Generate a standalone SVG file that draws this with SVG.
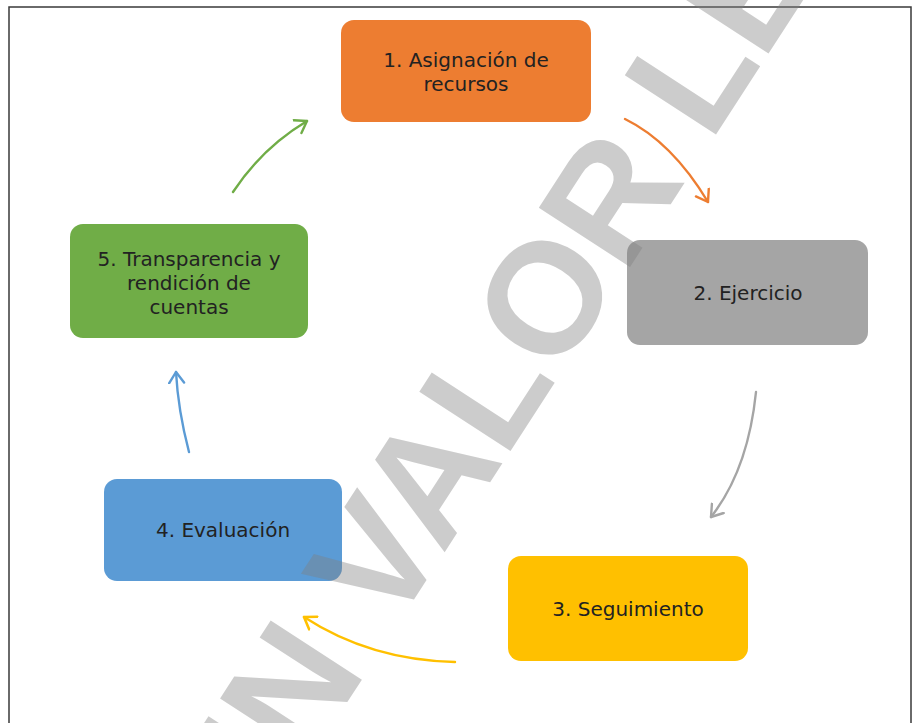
<svg xmlns="http://www.w3.org/2000/svg" width="918" height="723" viewBox="0 0 918 723">
<defs>
<style>
.lbl{font-family:"DejaVu Sans","Liberation Sans",sans-serif;font-size:20px;fill:#222;text-anchor:middle}
.arr{fill:none;stroke-width:2.4;stroke-linecap:round}
.wm{font-family:"Liberation Sans",Arial,sans-serif;font-weight:bold;font-size:158px;fill:#7f7f7f;fill-opacity:0.4;text-anchor:middle}
</style>
<marker id="mO" markerUnits="userSpaceOnUse" markerWidth="16" markerHeight="18" refX="12" refY="9" orient="auto" viewBox="0 0 16 18"><path d="M1,1.5 L12,9 L1,16.5" fill="none" stroke="#ED7D31" stroke-width="2.4" stroke-linecap="round" stroke-linejoin="round"/></marker>
<marker id="mG" markerUnits="userSpaceOnUse" markerWidth="16" markerHeight="18" refX="12" refY="9" orient="auto" viewBox="0 0 16 18"><path d="M1,1.5 L12,9 L1,16.5" fill="none" stroke="#A5A5A5" stroke-width="2.4" stroke-linecap="round" stroke-linejoin="round"/></marker>
<marker id="mY" markerUnits="userSpaceOnUse" markerWidth="16" markerHeight="18" refX="12" refY="9" orient="auto" viewBox="0 0 16 18"><path d="M1,1.5 L12,9 L1,16.5" fill="none" stroke="#FFC000" stroke-width="2.6" stroke-linecap="round" stroke-linejoin="round"/></marker>
<marker id="mB" markerUnits="userSpaceOnUse" markerWidth="16" markerHeight="18" refX="12" refY="9" orient="auto" viewBox="0 0 16 18"><path d="M1,1.5 L12,9 L1,16.5" fill="none" stroke="#5B9BD5" stroke-width="2.4" stroke-linecap="round" stroke-linejoin="round"/></marker>
<marker id="mV" markerUnits="userSpaceOnUse" markerWidth="16" markerHeight="18" refX="12" refY="9" orient="auto" viewBox="0 0 16 18"><path d="M1,1.5 L12,9 L1,16.5" fill="none" stroke="#70AD47" stroke-width="2.4" stroke-linecap="round" stroke-linejoin="round"/></marker>
</defs>
<rect width="918" height="723" fill="#fff"/>
<path d="M9,730 L9,7 L911,7 L911,730" fill="none" stroke="#3a3a3a" stroke-width="1.5"/>
<g id="connectors">
<path class="arr" stroke="#ED7D31" d="M625,119 Q672,142 708,202" marker-end="url(#mO)"/>
<path class="arr" stroke="#A5A5A5" d="M756,392 Q748,470 711,517" marker-end="url(#mG)"/>
<path class="arr" stroke="#FFC000" stroke-width="2.8" d="M455,662 Q370,660 304,617" marker-end="url(#mY)"/>
<path class="arr" stroke="#5B9BD5" d="M189,452 Q178,410 176,372" marker-end="url(#mB)"/>
<path class="arr" stroke="#70AD47" d="M233,192 Q262,148 307,121" marker-end="url(#mV)"/>
</g>
<g id="node1">
<rect x="341" y="20" width="250" height="102" rx="13" fill="#ED7D31"/>
<text class="lbl" x="466" y="67">1. Asignación de</text>
<text class="lbl" x="466" y="91">recursos</text>
</g>
<g id="node2">
<rect x="627" y="240" width="241" height="105" rx="13" fill="#A5A5A5"/>
<text class="lbl" x="748" y="300">2. Ejercicio</text>
</g>
<g id="node3">
<rect x="508" y="556" width="240" height="105" rx="13" fill="#FFC000"/>
<text class="lbl" x="628" y="616">3. Seguimiento</text>
</g>
<g id="node4">
<rect x="104" y="479" width="238" height="102" rx="13" fill="#5B9BD5"/>
<text class="lbl" x="223" y="537">4. Evaluación</text>
</g>
<g id="node5">
<rect x="70" y="224" width="238" height="114" rx="13" fill="#70AD47"/>
<text class="lbl" x="189" y="266">5. Transparencia y</text>
<text class="lbl" x="189" y="290">rendición de</text>
<text class="lbl" x="189" y="314">cuentas</text>
</g>
<text class="wm" transform="translate(613,293) rotate(-57)">SIN VALOR LEGAL</text>
</svg>
